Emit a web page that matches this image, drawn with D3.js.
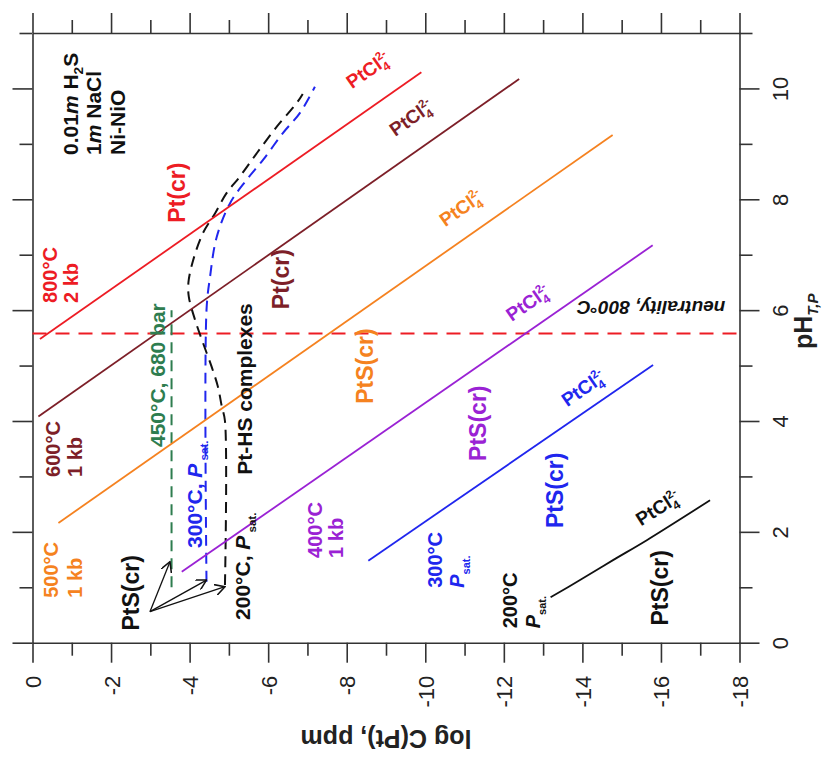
<!DOCTYPE html>
<html>
<head>
<meta charset="utf-8">
<script src="https://cdn.jsdelivr.net/npm/d3@7"></script>
<style>
  body { margin: 0; background: #fff; }
  svg { display: block; }
  text { font-family: "Liberation Sans", Arial, Helvetica, sans-serif; }
</style>
</head>
<body>
<svg id="chart" width="830" height="758"></svg>
<script>
// ---- axis ticks ----
const logTicks = d3.range(0, -19, -1);          // log C(Pt), ppm
const phTicks = d3.range(0, 12, 1);             // pH T,P

// ---- PtCl4(2-) / Pt(cr) / PtS(cr) solubility lines: [log C, pH] ----
const line800 = [[-0.19, 5.48], [-9.90, 10.29]];
const line600 = [[-0.15, 4.08], [-12.39, 10.17]];
const line500 = [[-0.66, 2.16], [-14.77, 9.16]];
const line400 = [[-3.80, 1.28], [-15.79, 7.17]];
const line300 = [[-8.55, 1.48], [-15.80, 5.01]];
const line200 = [[-13.19, 0.82], [-13.94, 1.13], [-14.78, 1.49], [-15.64, 1.85], [-17.25, 2.57]];

// ---- Pt-HS complex curves (dashed) ----
const hs450 = [[-3.54, 1.00], [-3.54, 6.00]];
const hs300 = [[-4.43, 1.10], [-4.43, 6.00], [-4.52, 6.60], [-4.69, 7.32], [-5.03, 7.93],
               [-5.45, 8.35], [-5.87, 8.71], [-6.38, 9.20], [-6.81, 9.56], [-7.19, 10.03]];
const hs200 = [[-4.90, 1.04], [-4.90, 4.00], [-4.82, 4.26], [-4.72, 4.62], [-4.56, 4.98],
               [-4.34, 5.41], [-4.14, 5.82], [-3.98, 6.24], [-3.97, 6.50], [-4.09, 6.90],
               [-4.34, 7.39], [-4.65, 7.75], [-4.94, 8.11], [-5.28, 8.41], [-5.71, 8.83],
               [-6.22, 9.31], [-6.73, 9.74], [-6.88, 9.90]];

// neutral pH at 800 °C
const neutralPH = 5.58;

// PtS(cr) pointer arrows: from label to the low-pH ends of the dashed curves
const arrowFrom = [-2.99, 0.56];
const arrowTo = [[-3.50, 1.46], [-4.43, 1.13], [-4.90, 1.01]];

const C = {
  red: "#ed1c24", maroon: "#7d1f28", orange: "#f58220", purple: "#9a22d4",
  blue: "#2026ee", green: "#2e7d4f", black: "#111111", axis: "#333333"
};

const svg = d3.select("#chart");
const x = d3.scaleLinear().domain([0, -18]).range([32.5, 739.5]);
const y = d3.scaleLinear().domain([0, 11]).range([642.7, 33]);

// ---- axes ----
const major = d => Math.abs(d) % 2 === 0;
function styleAxis(g) {
  g.select(".domain").attr("stroke", C.axis).attr("stroke-width", 1.6);
  g.selectAll(".tick line").attr("stroke", C.axis).attr("stroke-width", 1.6);
}

const gBottom = svg.append("g").attr("transform", `translate(0,${y(0)})`)
  .call(d3.axisBottom(x).tickValues(logTicks).tickSizeOuter(0)
    .tickFormat(d => major(d) ? (d === 0 ? "0" : "-" + Math.abs(d)) : ""));
gBottom.selectAll(".tick line").attr("y2", d => major(d) ? 20 : 13);
gBottom.selectAll(".tick text")
  .attr("x", null).attr("y", null).attr("dy", null)
  .attr("transform", "translate(8,33) rotate(-90)")
  .attr("text-anchor", "end").attr("font-size", 22).attr("fill", "#222");
styleAxis(gBottom);

const gTop = svg.append("g").attr("transform", `translate(0,${y(11)})`)
  .call(d3.axisTop(x).tickValues(logTicks).tickSizeOuter(0).tickFormat(""));
gTop.selectAll(".tick line").attr("y2", d => major(d) ? -20 : -13);
styleAxis(gTop);

const gLeft = svg.append("g").attr("transform", `translate(${x(0)},0)`)
  .call(d3.axisLeft(y).tickValues(phTicks).tickSizeOuter(0).tickFormat(""));
gLeft.selectAll(".tick line").attr("x2", d => major(d) ? -20 : -13);
styleAxis(gLeft);

const gRight = svg.append("g").attr("transform", `translate(${x(-18)},0)`)
  .call(d3.axisRight(y).tickValues(phTicks).tickSizeOuter(0)
    .tickFormat(d => (major(d) && d <= 10) ? String(d) : ""));
gRight.selectAll(".tick line").attr("x2", d => major(d) ? 20 : 13);
gRight.selectAll(".tick text")
  .attr("x", null).attr("y", null).attr("dy", null)
  .attr("transform", "translate(48,0) rotate(-90)")
  .attr("text-anchor", "middle").attr("font-size", 22).attr("fill", "#222");
styleAxis(gRight);

// axis titles
svg.append("text")
  .attr("transform", `translate(${(x(0) + x(-18)) / 2},730) rotate(180)`)
  .attr("text-anchor", "middle").attr("font-size", 25).attr("font-weight", "bold")
  .attr("fill", "#222").text("log C(Pt), ppm");

const phTitle = svg.append("text")
  .attr("transform", `translate(812,${y(5.8)}) rotate(-90)`)
  .attr("text-anchor", "middle").attr("font-size", 25).attr("font-weight", "bold")
  .attr("fill", "#222");
phTitle.append("tspan").text("pH");
phTitle.append("tspan").attr("font-size", 15).attr("font-style", "italic").attr("dy", 6).text("T,P");

// ---- plot content ----
const plot = svg.append("g");
const straight = d3.line().x(d => x(d[0])).y(d => y(d[1]));
const smooth = d3.line().x(d => x(d[0])).y(d => y(d[1])).curve(d3.curveCatmullRom.alpha(0.5));

// neutrality line
plot.append("line")
  .attr("x1", x(0)).attr("x2", x(-18)).attr("y1", y(neutralPH)).attr("y2", y(neutralPH))
  .attr("stroke", C.red).attr("stroke-width", 2).attr("stroke-dasharray", "14,9");

// dashed Pt-HS curves
[[hs450, C.green], [hs300, C.blue], [hs200, C.black]].forEach(([d, c]) => {
  plot.append("path").datum(d).attr("d", smooth)
    .attr("fill", "none").attr("stroke", c).attr("stroke-width", 2)
    .attr("stroke-dasharray", "11,7");
});

// solid solubility lines
[[line800, C.red], [line600, C.maroon], [line500, C.orange],
 [line400, C.purple], [line300, C.blue], [line200, C.black]].forEach(([d, c]) => {
  plot.append("path").datum(d).attr("d", d.length > 2 ? smooth : straight)
    .attr("fill", "none").attr("stroke", c).attr("stroke-width", 1.8);
});

// arrows
svg.append("defs").append("marker")
  .attr("id", "arrowhead").attr("viewBox", "0 0 10 10").attr("refX", 9).attr("refY", 5)
  .attr("markerWidth", 11).attr("markerHeight", 11).attr("markerUnits", "userSpaceOnUse")
  .attr("orient", "auto")
  .append("path").attr("d", "M0,0 L9,5 L0,10").attr("fill", "none")
  .attr("stroke", C.black).attr("stroke-width", 1.4);
arrowTo.forEach(t => {
  plot.append("line")
    .attr("x1", x(arrowFrom[0])).attr("y1", y(arrowFrom[1]))
    .attr("x2", x(t[0])).attr("y2", y(t[1]))
    .attr("stroke", C.black).attr("stroke-width", 1.3)
    .attr("marker-end", "url(#arrowhead)");
});

// ---- labels ----
// parts: [text, kind] where kind is "", "i" (italic), "sub", "sup", "subs" (small subscript)
function rich(textSel, parts) {
  let shift = 0;
  parts.forEach(([t, kind]) => {
    const ts = textSel.append("tspan").text(t);
    let target = 0;
    if (kind === "i") ts.attr("font-style", "italic");
    if (kind === "sub") { ts.attr("font-size", "65%"); target = 5; }
    if (kind === "subs") { ts.attr("font-size", "55%"); target = 6; }
    if (kind === "sup") { ts.attr("font-size", "60%").attr("dx", -7); target = -8; }
    const dy = target - shift;
    if (dy !== 0) ts.attr("dy", dy);
    shift = target;
  });
}

// vertical (reads bottom-to-top) label
function vlabel(lc, ph, parts, color, size, anchor) {
  const t = plot.append("text")
    .attr("transform", `translate(${x(lc)},${y(ph)}) rotate(-90)`)
    .attr("text-anchor", anchor || "start").attr("font-size", size)
    .attr("font-weight", "bold").attr("fill", color);
  rich(t, parts);
  return t;
}

// label along a line, rotated to the line's on-screen slope
function slopeLabel(lc, ph, lineData, color) {
  const a = lineData[lineData.length - 2], b = lineData[lineData.length - 1];
  const ang = Math.atan2(y(b[1]) - y(a[1]), x(b[0]) - x(a[0])) * 180 / Math.PI;
  const t = plot.append("text")
    .attr("transform", `translate(${x(lc)},${y(ph)}) rotate(${ang})`)
    .attr("text-anchor", "middle").attr("dy", "0.35em")
    .attr("font-size", 19).attr("font-weight", "bold").attr("fill", color);
  rich(t, [["PtCl", ""], ["4", "sub"], ["2-", "sup"]]);
}

// solution composition
vlabel(-1.16, 8.80, [["0.01", ""], ["m", "i"], [" H", ""], ["2", "sub"], ["S", ""]], C.black, 21);
vlabel(-1.75, 8.80, [["1", ""], ["m", "i"], [" NaCl", ""]], C.black, 21);
vlabel(-2.35, 8.80, [["Ni-NiO", ""]], C.black, 21);

// 800 °C
vlabel(-0.62, 6.13, [["800°C", ""]], C.red, 20);
vlabel(-1.16, 6.13, [["2 kb", ""]], C.red, 20);
vlabel(-3.88, 8.12, [["Pt(cr)", ""]], C.red, 23, "middle");
slopeLabel(-8.54, 10.33, line800, C.red);

// 600 °C
vlabel(-0.70, 2.99, [["600°C", ""]], C.maroon, 20);
vlabel(-1.26, 2.99, [["1 kb", ""]], C.maroon, 20);
vlabel(-6.53, 6.56, [["Pt(cr)", ""]], C.maroon, 23, "middle");
slopeLabel(-9.64, 9.47, line600, C.maroon);

// 500 °C
vlabel(-0.65, 0.81, [["500°C", ""]], C.orange, 20);
vlabel(-1.26, 0.81, [["1 kb", ""]], C.orange, 20);
vlabel(-8.67, 4.99, [["PtS(cr)", ""]], C.orange, 23, "middle");
slopeLabel(-10.91, 7.84, line500, C.orange);

// 400 °C
vlabel(-7.37, 1.53, [["400°C", ""]], C.purple, 20);
vlabel(-7.90, 1.53, [["1 kb", ""]], C.purple, 20);
vlabel(-11.55, 3.96, [["PtS(cr)", ""]], C.purple, 23, "middle");
slopeLabel(-12.61, 6.13, line400, C.purple);

// 300 °C
vlabel(-10.43, 0.99, [["300°C", ""]], C.blue, 20);
vlabel(-10.99, 0.99, [["P", "i"], ["sat.", "subs"]], C.blue, 20);
vlabel(-13.51, 2.75, [["PtS(cr)", ""]], C.blue, 23, "middle");
slopeLabel(-14.02, 4.59, line300, C.blue);

// 200 °C
vlabel(-12.33, 0.26, [["200°C", ""]], C.black, 20);
vlabel(-12.92, 0.26, [["P", "i"], ["sat.", "subs"]], C.black, 20);
vlabel(-16.18, 0.99, [["PtS(cr)", ""]], C.black, 23, "middle");
slopeLabel(-15.92, 2.43, line200, C.black);

// Pt-HS complex curves
vlabel(-3.37, 3.53, [["450°C, 680 bar", ""]], C.green, 21);
vlabel(-4.32, 1.71, [["300°C, ", ""], ["P", "i"], [" sat.", "subs"]], C.blue, 21);
vlabel(-5.54, 0.41, [["200°C, ", ""], ["P", "i"], [" sat.", "subs"]], C.black, 21);
vlabel(-5.59, 3.03, [["Pt-HS complexes", ""]], C.black, 21);
vlabel(-2.71, 0.90, [["PtS(cr)", ""]], C.black, 23, "middle");

// neutrality (upside-down, italic)
plot.append("text")
  .attr("transform", `translate(${x(-15.75)},${y(6.16)}) rotate(180)`)
  .attr("text-anchor", "middle").attr("font-size", 19).attr("font-weight", "bold")
  .attr("font-style", "italic").attr("fill", C.black).text("neutrality, 800°C");
</script>
</body>
</html>
